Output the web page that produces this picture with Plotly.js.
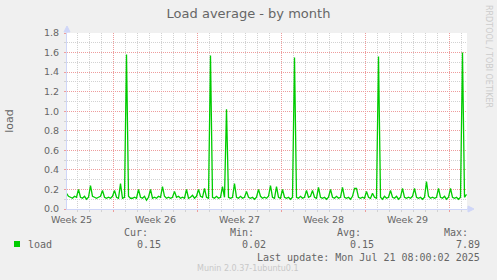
<!DOCTYPE html>
<html>
<head>
<meta charset="utf-8">
<script src="https://cdn.plot.ly/plotly-3.0.1.min.js"></script>
<style>
html,body{margin:0;padding:0;background:#F0F0F0;}
#chart{width:497px;height:280px;}
</style>
</head>
<body>
<div id="chart"></div>
<script>
// ---- data (4-hour samples starting 2025-06-18 02:00 UTC) ----
const seriesName = 'load';
const sampleStart = '2025-06-18T02:00:00Z';
const sampleStepHours = 4;
const loadValues = [
  0.16,0.13,0.12,0.11,0.13,0.12,
  0.20,0.12,0.11,0.13,0.10,0.12,
  0.24,0.13,0.12,0.11,0.12,0.13,
  0.19,0.12,0.11,0.12,0.11,0.13,
  0.19,0.12,0.11,0.26,0.11,0.12,
  1.58,0.13,0.11,0.11,0.12,0.11,
  0.20,0.12,0.11,0.13,0.09,0.12,
  0.20,0.11,0.12,0.11,0.13,0.12,
  0.23,0.13,0.11,0.12,0.11,0.12,
  0.18,0.12,0.13,0.11,0.12,0.11,
  0.20,0.11,0.12,0.14,0.11,0.13,
  0.20,0.13,0.12,0.21,0.12,0.11,
  1.57,0.12,0.11,0.13,0.11,0.12,
  0.23,0.12,1.02,0.12,0.11,0.12,
  0.26,0.12,0.11,0.13,0.11,0.12,
  0.18,0.12,0.11,0.12,0.10,0.12,
  0.20,0.13,0.11,0.12,0.11,0.13,
  0.24,0.12,0.11,0.23,0.12,0.11,
  0.20,0.12,0.11,0.12,0.10,0.12,
  1.55,0.12,0.11,0.13,0.11,0.12,
  0.19,0.12,0.13,0.19,0.12,0.11,
  0.22,0.12,0.11,0.12,0.10,0.12,
  0.20,0.12,0.11,0.13,0.11,0.12,
  0.22,0.12,0.11,0.12,0.10,0.13,
  0.21,0.21,0.12,0.11,0.12,0.11,
  0.18,0.12,0.11,0.16,0.12,0.11,
  1.56,0.12,0.10,0.13,0.11,0.12,
  0.19,0.12,0.11,0.13,0.10,0.12,
  0.21,0.12,0.11,0.12,0.11,0.13,
  0.21,0.12,0.11,0.12,0.10,0.12,
  0.28,0.13,0.11,0.12,0.11,0.12,
  0.21,0.12,0.11,0.13,0.10,0.12,
  0.21,0.12,0.11,0.12,0.10,0.12,
  1.60,0.12,0.15
];
const xRange = ['2025-06-18 03:00', '2025-07-21 11:00'];
const weekStarts = ['2025-06-22','2025-06-29','2025-07-06','2025-07-13','2025-07-20'];
const weekLabelPos = ['2025-06-18 12:00','2025-06-25 12:00','2025-07-02 12:00','2025-07-09 12:00','2025-07-16 12:00'];
const weekLabels = ['Week 25','Week 26','Week 27','Week 28','Week 29'];
const yTicks = [0,0.2,0.4,0.6,0.8,1.0,1.2,1.4,1.6,1.8];
const yTickText = ['0.0','0.2','0.4','0.6','0.8','1.0','1.2','1.4','1.6','1.8'];
const statLabels = ['Cur:','Min:','Avg:','Max:'];
const statValues = ['0.15','0.02','0.15','7.89'];
const titleText = 'Load average - by month';
const yTitle = 'load';
const lastUpdate = 'Last update: Mon Jul 21 08:00:02 2025';
const footer = 'Munin 2.0.37-1ubuntu0.1';
const sideText = 'RRDTOOL / TOBI OETIKER';

// ---- build ----
const t0 = Date.parse(sampleStart);
const pad = n => String(n).padStart(2,'0');
const xTimes = loadValues.map((_, i) => {
  const d = new Date(t0 + i * sampleStepHours * 3600000);
  return d.getUTCFullYear()+'-'+pad(d.getUTCMonth()+1)+'-'+pad(d.getUTCDate())+' '+pad(d.getUTCHours())+':00';
});

const L = 67, W = 400, T = 33, H = 176;
const px = x => (x - L) / W;
const py = y => 1 - (y - T) / H;

const FONT = 'DejaVu Sans, sans-serif';
const MONO = 'DejaVu Sans Mono, monospace';
const TXT = '#666666';
const AXIS = '#CFD6F8';
const MGRID = '#EE9C9C';
const GRID = '#D2D2D2';

const traces = [
  {x: xTimes, y: loadValues, type: 'scatter', mode: 'lines', name: seriesName,
   line: {color: '#00CC00', width: 1.3}, showlegend: false, hoverinfo: 'x+y'},
  {x: [weekLabelPos[0]], y: [null], xaxis: 'x2', yaxis: 'y', type: 'scatter', mode: 'lines',
   showlegend: false, hoverinfo: 'skip'}
];

const annotations = [];
const statX = [150, 256, 363, 470];
const valX = [163, 268, 376, 482];
statLabels.forEach((s, i) => {
  annotations.push({text: s, xref: 'paper', yref: 'paper', x: px(statX[i]), y: py(232.5),
    xanchor: 'right', yanchor: 'middle', showarrow: false, font: {family: MONO, size: 10, color: TXT}});
  annotations.push({text: statValues[i], xref: 'paper', yref: 'paper', x: px(valX[i]), y: py(244),
    xanchor: 'right', yanchor: 'middle', showarrow: false, font: {family: MONO, size: 10, color: TXT}});
});
annotations.push({text: seriesName, xref: 'paper', yref: 'paper', x: px(26), y: py(244),
  xanchor: 'left', yanchor: 'middle', showarrow: false, font: {family: MONO, size: 10, color: TXT}});
annotations.push({text: lastUpdate, xref: 'paper', yref: 'paper', x: px(482), y: py(257),
  xanchor: 'right', yanchor: 'middle', showarrow: false, font: {family: MONO, size: 10, color: TXT}});
annotations.push({text: footer, xref: 'paper', yref: 'paper', x: px(248), y: py(268),
  xanchor: 'center', yanchor: 'middle', showarrow: false, font: {family: FONT, size: 8, color: '#C8C8C8'}});
annotations.push({text: sideText, xref: 'paper', yref: 'paper', x: px(488), y: py(56),
  xanchor: 'center', yanchor: 'middle', textangle: 90, showarrow: false, font: {family: FONT, size: 8, color: '#CCCCCC'}});

const shapes = [
  // legend colour box
  {type: 'rect', xref: 'paper', yref: 'paper', x0: px(14), x1: px(20), y0: py(247), y1: py(241),
   fillcolor: '#00CC00', line: {width: 0}},
  // y axis extension + arrow
  {type: 'line', xref: 'paper', yref: 'paper', x0: 0, x1: 0, y0: 1, y1: py(29), line: {color: AXIS, width: 1}},
  {type: 'path', xref: 'paper', yref: 'paper',
   path: 'M '+px(64)+' '+py(32)+' L '+px(67)+' '+py(26)+' L '+px(70)+' '+py(32)+' Z',
   fillcolor: AXIS, line: {color: AXIS, width: 1}},
  // x axis extension + arrow
  {type: 'line', xref: 'paper', yref: 'paper', x0: 1, x1: px(470), y0: 0, y1: 0, line: {color: AXIS, width: 1}},
  {type: 'path', xref: 'paper', yref: 'paper',
   path: 'M '+px(468)+' '+py(206)+' L '+px(474)+' '+py(209)+' L '+px(468)+' '+py(212)+' Z',
   fillcolor: AXIS, line: {color: AXIS, width: 1}}
];

const layout = {
  width: 497, height: 280,
  margin: {l: L, r: 497 - L - W, t: T, b: 280 - T - H, pad: 0},
  paper_bgcolor: '#F0F0F0', plot_bgcolor: '#FFFFFF',
  font: {family: FONT, color: TXT, size: 9},
  title: {text: titleText, x: 0.5, xref: 'container', xanchor: 'center',
          y: 1 - 13/280, yref: 'container', yanchor: 'middle',
          font: {family: FONT, size: 13, color: TXT}},
  showlegend: false,
  xaxis: {
    type: 'date', range: xRange, tickmode: 'array', tickvals: weekStarts, showticklabels: false,
    showgrid: true, gridcolor: MGRID, griddash: '1px,1px', gridwidth: 1,
    ticks: 'outside', ticklen: 2, tickcolor: MGRID,
    showline: true, linecolor: AXIS, linewidth: 1, zeroline: false, fixedrange: true,
    minor: {dtick: 86400000, tick0: '2025-06-15', showgrid: true, gridcolor: GRID, griddash: '1px,1px',
            ticks: 'outside', ticklen: 2, tickcolor: GRID}
  },
  xaxis2: {
    type: 'date', overlaying: 'x', side: 'bottom', range: xRange, tickmode: 'array',
    tickvals: weekLabelPos, ticktext: weekLabels, showgrid: false, ticks: '', zeroline: false,
    showline: false, tickfont: {family: FONT, size: 9.5, color: TXT}, ticklabelstandoff: 3, fixedrange: true
  },
  yaxis: {
    range: [0, 1.8], tickmode: 'array', tickvals: yTicks, ticktext: yTickText,
    showgrid: true, gridcolor: MGRID, griddash: '1px,1px', gridwidth: 1,
    ticks: 'outside', ticklen: 2, tickcolor: MGRID,
    showline: true, linecolor: AXIS, linewidth: 1, zeroline: false, fixedrange: true,
    tickfont: {family: FONT, size: 9.5, color: TXT}, ticklabelstandoff: 3,
    title: {text: yTitle, font: {family: FONT, size: 11, color: TXT}, standoff: 28},
    minor: {dtick: 0.1, tick0: 0, showgrid: true, gridcolor: GRID, griddash: '1px,1px',
            ticks: 'outside', ticklen: 2, tickcolor: GRID}
  },
  annotations: annotations,
  shapes: shapes
};

Plotly.newPlot('chart', traces, layout, {displayModeBar: false, staticPlot: true});
</script>
</body>
</html>
